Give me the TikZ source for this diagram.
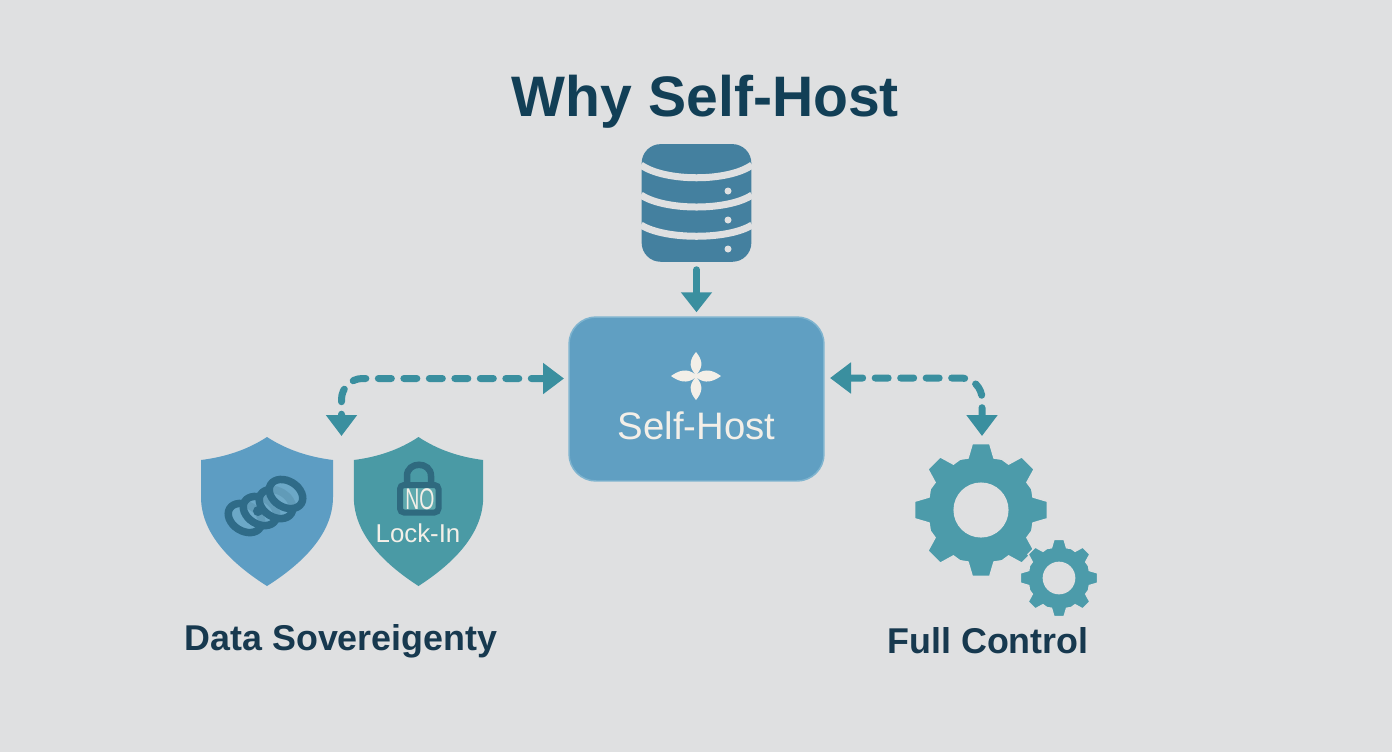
\documentclass[tikz,border=0pt]{standalone}
\usepackage{xcolor}
\usepackage{graphicx}
\usepackage{fontspec}
\setmainfont{Liberation Sans}
\usetikzlibrary{positioning, arrows.meta}

\definecolor{pagegray}{HTML}{DFE0E1}
\definecolor{titleink}{HTML}{123F56}
\definecolor{labelink}{HTML}{17394F}
\definecolor{hubblue}{HTML}{609FC2}
\definecolor{hubedge}{HTML}{7FB4CF}
\definecolor{storeblue}{HTML}{44809F}
\definecolor{shieldblue}{HTML}{5D9DC3}
\definecolor{shieldteal}{HTML}{4A9AA5}
\definecolor{flowteal}{HTML}{3A8F9F}
\definecolor{gearteal}{HTML}{4C9BAA}
\definecolor{chainink}{HTML}{2F6B88}
\definecolor{chainfill}{HTML}{72ACC9}
\definecolor{lockink}{HTML}{2F6A7F}
\definecolor{lockfill}{HTML}{5FA9AE}
\definecolor{petal}{HTML}{F3EFE8}

\tikzset{
  shieldicon/.pic={
    \fill[#1] (0,0) .. controls (-20,13) and (-42,20) .. (-66,23) -- (-66,60)
      .. controls (-66,100) and (-30,130) .. (0,149)
      .. controls (30,130) and (66,100) .. (66,60) -- (66,23)
      .. controls (42,20) and (20,13) .. (0,0) -- cycle;
  },
  gearicon/.pic={
    \fill[gearteal, even odd rule, draw=pagegray, line width=0.03cm] (-14:80)
      foreach \a in {0,45,...,315} {
        -- (\a-14:80) -- (\a-7.5:100) -- (\a+7.5:100) -- (\a+14:80) -- (\a+22.5:82)
      } -- cycle (0,0) circle [radius=40];
  }
}

\begin{document}
\begin{tikzpicture}[x=0.02cm, y=-0.02cm, >=Stealth,
      hub/.style={draw=hubedge, line width=0.03cm, rounded corners=0.54cm, fill=hubblue, minimum width=5.1cm, minimum height=3.28cm},
      store/.style={minimum width=2.18cm, minimum height=2.34cm, inner sep=0pt},
      headline/.style={text=titleink, font=\fontsize{32.5}{38}\bfseries\selectfont, inner sep=0pt},
      caption/.style={text=labelink, font=\fontsize{20.4}{24}\bfseries\selectfont, inner sep=0pt},
      flow/.style={draw=flowteal, line width=0.14cm, line cap=round, rounded corners=0.42cm, dash pattern=on 0.26cm off 0.25cm,
        {Triangle[length=0.42cm, width=0.6cm]}-{Triangle[length=0.42cm, width=0.6cm]}},
      feed/.style={draw=flowteal, line width=0.14cm, line cap=round, -{Triangle[length=0.4cm, width=0.6cm]}},
      chainlink/.style={draw=chainink, line width=0.15cm, fill=chainfill, fill opacity=0.75}]

    \useasboundingbox (0,0) rectangle (1392,752);
    \fill[pagegray] (0,0) rectangle (1392,752);

    \node[hub] (hub) at (696.5,399) {};
    \node[store, above=1.09cm of hub] (store) {};
    \node[headline, above=0.3cm of store, xshift=0.18cm] (title) {Why Self-Host};
    \node[text=petal, inner sep=0pt, font=\fontsize{21.8}{26}\selectfont] (hublabel) at ([yshift=-0.54cm]hub.center) {Self-Host};

    \fill[storeblue, rounded corners=0.38cm] (store.north west) rectangle (store.south east);
    \foreach \ya/\yb/\yd in {165/182/191, 195/211/220, 225/240/249} {
      \draw[pagegray, line width=0.14cm] (641,\ya) .. controls (665,\yb) and (728,\yb) .. (752,\ya);
      \fill[pagegray] (728,\yd) circle [radius=3.5];
    }

    \fill[petal] (696,375) .. controls (687,366) and (691,358) .. (696,352) .. controls (701,358) and (705,366) .. (696,375)
      .. controls (705,367) and (714,371) .. (721,376) .. controls (714,381) and (705,385) .. (696,377)
      .. controls (705,386) and (701,394) .. (696,400) .. controls (691,394) and (687,386) .. (696,377)
      .. controls (687,385) and (678,381) .. (671,376) .. controls (678,371) and (687,367) .. (696,375) -- cycle;

    \pic at (267,437) {shieldicon=shieldblue};
    \pic[xscale=0.98] at (418.5,437) {shieldicon=shieldteal};

    \foreach \cx/\cy in {245/518, 260/511, 276/504, 286/494} {
      \draw[chainlink] (\cx,\cy) circle [x radius=18, y radius=13, rotate=-32];
    }
    \fill[chainink] (258,511) circle [radius=5];

    \draw[lockink, line width=0.13cm] (407,484) -- (407,476) .. controls (407,461) and (431,461) .. (431,476) -- (431,484);
    \draw[lockink, fill=lockfill, line width=0.12cm, rounded corners=0.08cm] (400,485) rectangle (438.5,512.5);
    \node[text=petal, inner sep=0pt, font=\fontsize{17}{20}\selectfont] (nolabel) at (420,499) {\scalebox{0.65}[1]{NO}};
    \node[text=petal, inner sep=0pt, font=\fontsize{14.7}{18}\selectfont] (locklabel) at (418,533) {Lock-In};

    \pic[scale=0.67] at (981,510) {gearicon};
    \pic[scale=0.39] at (1059,578) {gearicon};

    \node[caption] (sovereignty) at (341,641) {Data Sovereigenty};
    \node[caption] (control) at (988,641) {Full Control};

    \coordinate (hubleft) at (564,378.5);
    \coordinate (hubright) at (830,378);
    \coordinate (sovereigntyin) at (341.5,436);
    \coordinate (controlin) at (982,436);

    \draw[feed, shorten <=0.16cm, shorten >=0.08cm] (store) -- (hub);
    \draw[flow] (hubleft) -| (sovereigntyin);
    \draw[flow] (hubright) -| (controlin);
  \end{tikzpicture}
\end{document}
